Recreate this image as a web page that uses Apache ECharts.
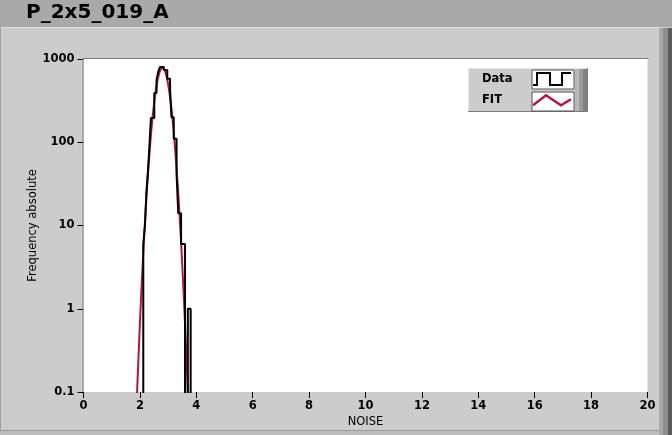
<!DOCTYPE html>
<html>
<head>
<meta charset="utf-8">
<script src="https://cdn.jsdelivr.net/npm/echarts@6/dist/echarts.min.js"></script>
<style>
html,body{margin:0;padding:0;background:#cccccc;}
#chart{width:672px;height:435px;}
</style>
</head>
<body>
<div id="chart"></div>
<script>
// ---- data ----
const titleText = "P_2x5_019_A";
const xTicks = [0, 2, 4, 6, 8, 10, 12, 14, 16, 18, 20];
const yTicks = [0.1, 1, 10, 100, 1000];
// histogram bin edges (NOISE) and counts per bin (bin i = [binEdges[i], binEdges[i+1]])
const binEdges = [2.02, 2.12, 2.18, 2.23, 2.28, 2.32, 2.39, 2.51, 2.59, 2.65, 2.71, 2.85, 2.97, 3.07, 3.12, 3.20, 3.30, 3.36, 3.46, 3.60, 3.70, 3.80, 3.90];
const binCounts = [0, 6, 10, 25, 42, 70, 195, 390, 560, 700, 800, 740, 580, 420, 200, 110, 42, 14, 6, 0, 1, 0];
// fit curve
const fitX = [1.85, 1.90, 2.00, 2.10, 2.20, 2.30, 2.40, 2.50, 2.60, 2.70, 2.80, 2.90, 3.00, 3.10, 3.20, 3.30, 3.40, 3.50, 3.60, 3.70, 3.75];
const fitY = [0.036, 0.10, 0.66, 3.5, 14.6, 49, 133, 288, 501, 698, 780, 698, 501, 288, 133, 49, 14.6, 3.5, 0.66, 0.10, 0.036];

// ---- build series data ----
const FLOOR = 0.001; // zero counts drawn below the axis (clipped)
const dataPts = [];
for (let i = 0; i < binCounts.length; i++) {
  dataPts.push([binEdges[i], Math.max(binCounts[i], FLOOR)]);
}
dataPts.push([binEdges[binEdges.length - 1], Math.max(binCounts[binCounts.length - 1], FLOOR)]);
const fitPts = fitX.map((x, i) => [x, fitY[i]]);

const FONT = 'DejaVu Sans';
const GL = 83.5, GT = 59, GW = 564, GH = 333;

const chart = echarts.init(document.getElementById('chart'), null, {renderer: 'canvas'});
chart.setOption({
  backgroundColor: '#cccccc',
  animation: false,
  title: {
    text: titleText, left: 26, top: 3, padding: 0,
    textStyle: {fontFamily: FONT, fontWeight: 'bold', fontSize: 20, color: '#000'}
  },
  grid: {left: GL, top: GT, width: GW, height: GH, show: true, backgroundColor: '#ffffff', borderWidth: 0},
  xAxis: {
    type: 'value', min: xTicks[0], max: xTicks[xTicks.length - 1], interval: 2,
    name: 'NOISE', nameLocation: 'middle', nameGap: 24, nameMoveOverlap: false,
    nameTextStyle: {fontFamily: FONT, fontSize: 11.5, color: '#000'},
    axisLine: {show: false},
    axisTick: {show: true, length: 6, lineStyle: {color: '#000', width: 1}},
    axisLabel: {fontFamily: FONT, fontWeight: 'bold', fontSize: 11.5, color: '#000', margin: 8},
    splitLine: {show: false}
  },
  yAxis: {
    type: 'log', logBase: 10, min: yTicks[0], max: yTicks[yTicks.length - 1],
    name: 'Frequency absolute', nameLocation: 'middle', nameGap: 44, nameRotate: 90, nameMoveOverlap: false,
    nameTextStyle: {fontFamily: FONT, fontSize: 11.5, color: '#000'},
    axisLine: {show: false},
    axisTick: {show: true, length: 6, lineStyle: {color: '#000', width: 1}},
    axisLabel: {fontFamily: FONT, fontWeight: 'bold', fontSize: 11.5, color: '#000', margin: 9,
      formatter: v => String(+Number(v).toPrecision(6))},
    splitLine: {show: false}
  },
  legend: {
    orient: 'vertical', left: 482, top: 72, itemGap: 8, itemWidth: 38, itemHeight: 14,
    align: 'right', selectedMode: false, padding: 0, z: 6,
    formatter: n => '{t|' + n + '}',
    textStyle: {rich: {t: {width: 46, align: 'left', fontFamily: FONT, fontWeight: 'bold', fontSize: 11.5, color: '#000'}}},
    data: [
      {name: 'Data', icon: 'path://M0,13 L4,13 L4,1 L17,1 L17,13 L29,13 L29,1 L38,1',
        itemStyle: {color: 'rgba(0,0,0,0)', borderColor: '#000', borderWidth: 2}},
      {name: 'FIT', icon: 'path://M0,12 L13,2 L28,12 L38,6',
        itemStyle: {color: 'rgba(0,0,0,0)', borderColor: '#b5124b', borderWidth: 2.5}}
    ]
  },
  graphic: [
    // title bar
    {type: 'rect', shape: {x: 0, y: 0, width: 672, height: 27}, style: {fill: '#a9a9a9'}, z: -10, silent: true},
    {type: 'line', shape: {x1: 0, y1: 27.5, x2: 660, y2: 27.5}, style: {stroke: '#dedede', lineWidth: 1}, z: -9, silent: true},
    {type: 'line', shape: {x1: 0.5, y1: 27, x2: 0.5, y2: 435}, style: {stroke: '#a0a0a0', lineWidth: 1}, z: -9, silent: true},
    // right bevel
    {type: 'rect', shape: {x: 659, y: 28, width: 4, height: 407}, style: {fill: '#a8a8a8'}, z: -9, silent: true},
    {type: 'rect', shape: {x: 663, y: 28, width: 5, height: 407}, style: {fill: '#8e8e8e'}, z: -9, silent: true},
    {type: 'rect', shape: {x: 668, y: 28, width: 4, height: 407}, style: {fill: '#5c5c5c'}, z: -9, silent: true},
    // bottom edge
    {type: 'rect', shape: {x: 0, y: 431, width: 659, height: 4}, style: {fill: '#bdbdbd'}, z: -9, silent: true},
    {type: 'line', shape: {x1: 0, y1: 430.5, x2: 659, y2: 430.5}, style: {stroke: '#9a9a9a', lineWidth: 1}, z: -9, silent: true},
    // plot sunken border (top & left)
    {type: 'polyline', shape: {points: [[GL - 0.5, GT + GH], [GL - 0.5, GT - 0.5], [GL + GW + 1, GT - 0.5]]}, style: {stroke: '#7a7a7a', fill: null, lineWidth: 1}, z: 5, silent: true},
    // legend frame
    {type: 'rect', shape: {x: 468, y: 68, width: 120, height: 44}, style: {fill: '#cccccc'}, z: 3, silent: true},
    {type: 'polyline', shape: {points: [[468.5, 112], [468.5, 68.5], [588, 68.5]]}, style: {stroke: '#e8e8e8', fill: null, lineWidth: 1}, z: 3, silent: true},
    {type: 'polyline', shape: {points: [[468, 111.5], [587.5, 111.5], [587.5, 68]]}, style: {stroke: '#7a7a7a', fill: null, lineWidth: 1}, z: 3, silent: true},
    {type: 'rect', shape: {x: 575, y: 69, width: 4, height: 42}, style: {fill: '#b8b8b8'}, z: 3, silent: true},
    {type: 'rect', shape: {x: 579, y: 69, width: 4, height: 42}, style: {fill: '#9c9c9c'}, z: 3, silent: true},
    {type: 'rect', shape: {x: 583, y: 69, width: 4, height: 42}, style: {fill: '#808080'}, z: 3, silent: true},
    // legend icon boxes
    {type: 'rect', shape: {x: 532, y: 70, width: 42, height: 19}, style: {fill: '#ffffff', stroke: '#555', lineWidth: 1}, z: 3, silent: true},
    {type: 'rect', shape: {x: 532, y: 92, width: 42, height: 19}, style: {fill: '#ffffff', stroke: '#555', lineWidth: 1}, z: 3, silent: true}
  ],
  series: [
    {
      name: 'FIT', type: 'line', data: fitPts, smooth: 0.3, showSymbol: false, symbol: 'none',
      lineStyle: {color: '#b5124b', width: 2}, itemStyle: {color: '#b5124b'}, z: 2, clip: true
    },
    {
      name: 'Data', type: 'line', data: dataPts, step: 'end', showSymbol: false, symbol: 'none',
      lineStyle: {color: '#000000', width: 2}, itemStyle: {color: '#000000'}, z: 3, clip: true
    }
  ]
});
</script>
</body>
</html>
